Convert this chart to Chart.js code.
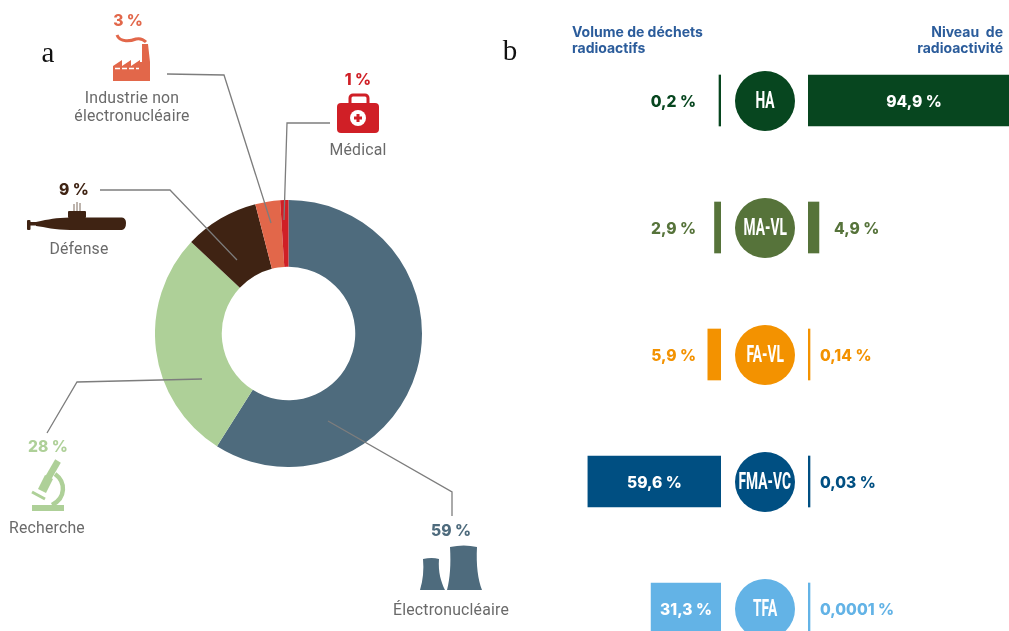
<!DOCTYPE html>
<html lang="fr">
<head>
<meta charset="utf-8">
<title>Déchets radioactifs</title>
<script src="https://cdn.jsdelivr.net/npm/chart.js@4"></script>
<style>
  html,body{margin:0;padding:0;background:#fff;width:1009px;height:631px;overflow:hidden}
  #stage{position:relative;width:1009px;height:631px;overflow:hidden;font-family:Inter,sans-serif}
  canvas{position:absolute;display:block}
  svg{position:absolute;left:0;top:0}
  .t{position:absolute;white-space:nowrap;transform:translate(-50%,-50%);line-height:1}
  .pct{font-weight:800;font-size:15.6px}
  .name{font-family:Roboto,sans-serif;font-size:15.8px;color:#6a6a6a;letter-spacing:.2px}
  .letter{font-family:"Liberation Serif",serif;font-size:29px;color:#111}
  .head{font-weight:700;font-size:14px;color:#2b5c9b;line-height:16px;position:absolute;white-space:pre}
  .badge{position:absolute;width:60px;height:60px;border-radius:50%;left:735px;color:#fff;
    display:flex;align-items:center;justify-content:center}
  .badge span{font-family:Roboto,sans-serif;font-weight:700;font-size:23px;white-space:nowrap;
    display:inline-block;transform:scaleX(.6);line-height:1}
</style>
</head>
<body>
<div id="stage">
  <canvas id="donut" width="267" height="267" style="left:155px;top:200px"></canvas>
  <canvas id="volume" width="134" height="635" style="left:587px;top:37px"></canvas>
  <canvas id="activity" width="201" height="635" style="left:808px;top:37px"></canvas>
  <svg id="deco" width="1009" height="631" viewBox="0 0 1009 631">
    <g fill="none" stroke="#7d7d7d" stroke-width="1.3">
      <polyline points="167,74 224,75 271,223"/>
      <polyline points="330,123 287,123 284,220"/>
      <polyline points="100,190 170,190 237,260"/>
      <polyline points="202,379 77,382 47,433"/>
      <polyline points="328,421 452,492 452,516"/>
    </g>
    <!-- industrie -->
    <g fill="#e2674a">
      <path d="M117 35C120 43 131 41 136 39C140 38 143 39 146 42" fill="none" stroke="#e2674a" stroke-width="3"/>
      <polygon points="113,81 113,66 122,60 122,66 131,60 131,66 140,60 140,62 142,62 142,44 148,44 150,62 150,81"/>
      <line x1="115" y1="68.5" x2="139" y2="68.5" stroke="#fff" stroke-width="1.4" stroke-dasharray="5 2"/>
    </g>
    <!-- medical -->
    <rect x="350" y="95" width="18" height="12" rx="3" fill="none" stroke="#d01f26" stroke-width="3"/>
    <rect x="337" y="103" width="42" height="30" rx="4" fill="#d01f26"/>
    <circle cx="358" cy="118" r="8" fill="#fff"/>
    <path d="M358 114V122M354 118H362" stroke="#d01f26" stroke-width="3"/>
    <!-- defense -->
    <g fill="#3f2313">
      <path d="M36 222C50 219 55 218 70 217.5L122 217.5Q126 218 126 223Q126 229 122 230L70 230C55 230 45 227 36 226Z"/>
      <rect x="30" y="222" width="7" height="3.5"/>
      <rect x="27" y="220" width="3.5" height="10" rx="1"/>
      <rect x="68" y="211" width="18" height="7" rx="1"/>
      <path d="M74 211V204M77 211V202M80 211V203" stroke="#7d6a5c" stroke-width="1"/>
    </g>
    <!-- recherche -->
    <g fill="none" stroke="#aed098">
      <path d="M58 461L47 480" stroke-width="6.5"/>
      <path d="M49 477L42 491" stroke-width="9"/>
      <path d="M55 474C66 482 66 498 52 505" stroke-width="4.5"/>
      <path d="M32 492L45 499" stroke-width="3"/>
      <path d="M32 508H64" stroke-width="6"/>
    </g>
    <!-- electronucleaire -->
    <g fill="#4e6b7d">
      <path d="M423 559Q432 557 439 559C438 572 441 582 445 590L420 590C423 580 424 570 423 559Z"/>
      <path d="M450 547Q464 544 477 547C476 565 478 580 482 590L447 590C450 578 451 565 450 547Z"/>
    </g>
  </svg>
  <div class="t letter" style="left:48px;top:52px">a</div>
  <div class="t letter" style="left:510px;top:50px">b</div>
  <div class="head" style="left:572px;top:24px">Volume de déchets
radioactifs</div>
  <div class="head" style="right:6px;top:24px;text-align:right">Niveau  de
radioactivité</div>
</div>
<script>
// Panel a
const sourceNames = ["Électronucléaire", "Recherche", "Défense", "Industrie non\nélectronucléaire", "Médical"];
const sourceShares = [59, 28, 9, 3, 1];
const sourceColors = ["#4e6b7d", "#aed098", "#3f2313", "#e2674a", "#d01f26"];
// Panel b
const wasteClasses = ["HA", "MA-VL", "FA-VL", "FMA-VC", "TFA"];
const wasteVolume = [0.2, 2.9, 5.9, 59.6, 31.3];
const wasteActivity = [94.9, 4.9, 0.14, 0.03, 0.0001];
const classColors = ["#07461f", "#56733a", "#f39200", "#004f82", "#63b3e6"];
const volumeAxisMax = 60;
const activityAxisMax = 90;

const fmt = v => String(v).replace(".", ",") + " %";
const FONT = "800 15.6px Inter, sans-serif";
const stage = document.getElementById("stage");

// Annotation placement (layout only, not data)
const sourceLabelLayout = [
  {px:451, py:531, nx:451, ny:610},
  {px:48,  py:447, nx:47,  ny:528},
  {px:74,  py:190, nx:79,  ny:249},
  {px:128, py:21,  nx:132, ny:98},
  {px:358, py:80,  nx:358, ny:150}
];
sourceNames.forEach((name, i) => {
  const l = sourceLabelLayout[i];
  const p = document.createElement("div");
  p.className = "t pct";
  p.style.cssText = `left:${l.px}px;top:${l.py}px;color:${sourceColors[i]}`;
  p.textContent = fmt(sourceShares[i]);
  stage.appendChild(p);
  const parts = name.split("\n");
  parts.forEach((line, j) => {
    const n = document.createElement("div");
    n.className = "t name";
    n.style.left = l.nx + "px";
    n.style.top = (l.ny + j * 18) + "px";
    n.textContent = line;
    stage.appendChild(n);
  });
});

new Chart(document.getElementById("donut"), {
  type: "doughnut",
  data: { labels: sourceNames, datasets: [{ data: sourceShares, backgroundColor: sourceColors, borderWidth: 0 }] },
  options: {
    responsive: false, animation: false, cutout: "50%", rotation: 0,
    layout: { padding: 0 },
    plugins: { legend: { display: false }, tooltip: { enabled: false } }
  }
});

// Value labels: white inside a wide bar, coloured beside a narrow one
const valueLabels = {
  id: "valueLabels",
  afterDatasetsDraw(chart, args, opts) {
    const ctx = chart.ctx, meta = chart.getDatasetMeta(0), vals = chart.data.datasets[0].data;
    ctx.save();
    ctx.font = FONT;
    ctx.textBaseline = "middle";
    meta.data.forEach((bar, i) => {
      const v = vals[i];
      const len = Math.abs(bar.x - bar.base);
      if (len > 50) {
        ctx.fillStyle = "#fff";
        ctx.textAlign = "center";
        ctx.fillText(fmt(v), (bar.x + bar.base) / 2, bar.y + 1.5);
      } else if (opts.side === "left") {
        ctx.fillStyle = classColors[i];
        ctx.textAlign = "right";
        ctx.fillText(fmt(v), bar.base - 25, bar.y + 1.5);
      } else {
        ctx.fillStyle = classColors[i];
        ctx.textAlign = "left";
        ctx.fillText(fmt(v), bar.x + (len > 5 ? 15 : 10), bar.y + 1.5);
      }
    });
    ctx.restore();
  }
};

function classBars(id, values, max, reverse, side) {
  return new Chart(document.getElementById(id), {
    type: "bar",
    data: { labels: wasteClasses, datasets: [{ data: values, backgroundColor: classColors, barThickness: 51, minBarLength: 2, borderWidth: 0 }] },
    options: {
      indexAxis: "y", responsive: false, animation: false,
      layout: { padding: 0 },
      scales: {
        x: { display: false, min: 0, max: max, reverse: reverse },
        y: { display: false }
      },
      plugins: { legend: { display: false }, tooltip: { enabled: false }, valueLabels: { side } }
    },
    plugins: [valueLabels]
  });
}
const volumeChart = classBars("volume", wasteVolume, volumeAxisMax, true, "left");
classBars("activity", wasteActivity, activityAxisMax, false, "right");

// Class badges sit on the category centres of the bar scale
const yScale = volumeChart.scales.y;
wasteClasses.forEach((c, i) => {
  const b = document.createElement("div");
  b.className = "badge";
  b.style.top = (37 + yScale.getPixelForValue(i) - 30) + "px";
  b.style.background = classColors[i];
  const s = document.createElement("span");
  s.textContent = c;
  b.appendChild(s);
  stage.appendChild(b);
});
</script>
</body>
</html>
